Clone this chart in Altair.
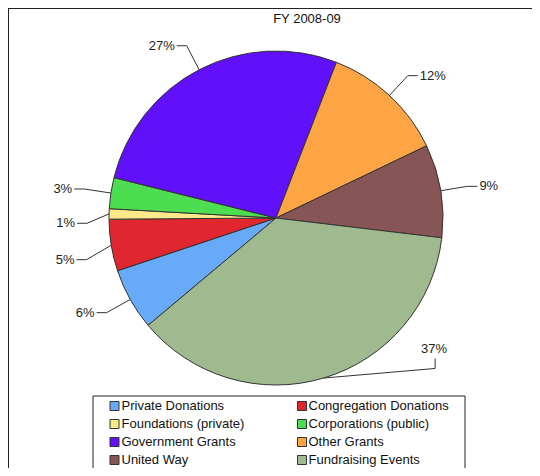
import math
import altair as alt
import pandas as pd

# ---- data ----
categories = ["Private Donations", "Congregation Donations", "Foundations (private)",
              "Corporations (public)", "Government Grants", "Other Grants",
              "United Way", "Fundraising Events"]
shares = [6, 5, 1, 3, 27, 12, 9, 37]
colors = ["#66aaf8", "#e0262e", "#fde98a", "#4ddd50", "#6010fa", "#fda544", "#875555", "#a0ba90"]
title_text = "FY 2008-09"

# ---- layout ----
W, H = 524, 460
CX, CY, R = 268, 210, 167
START_DEG = 230.0
FONT = "Liberation Sans"
LEADER_OUT = 27
# (angle shift deg, radial extra) for labels moved to avoid crowding
LABEL_NUDGE = {"Fundraising Events": (-30, 52),
               "Congregation Donations": (-3, 27),
               "Foundations (private)": (-3, 22)}
VERTICAL_LEADER = {"Fundraising Events"}

total = float(sum(shares))
pie_df = pd.DataFrame({"category": categories, "share": shares, "idx": list(range(len(categories)))})


def polar(deg, r):
    a = math.radians(deg)
    return CX + r * math.sin(a), CY - r * math.cos(a)


line_rows, text_rows = [], []
cum = 0.0
for i, (c, s) in enumerate(zip(categories, shares)):
    mid = START_DEG + (cum + s / 2.0) / total * 360.0
    cum += s
    dang, dr = LABEL_NUDGE.get(c, (0, LEADER_OUT))
    ax, ay = polar(mid, R)
    ex, ey = polar(mid + dang, R + dr)
    lab = f"{s}%"
    if c in VERTICAL_LEADER:
        pts = [(ax, ay), (ex, ey), (ex, ey - 10)]
        text_rows.append({"x": ex - 1, "y": ey - 19, "label": lab, "side": "center"})
    else:
        side = 1 if math.sin(math.radians(mid)) > 0 else -1
        pts = [(ax, ay), (ex, ey), (ex + 10 * side, ey)]
        text_rows.append({"x": ex + 12 * side, "y": ey, "label": lab,
                          "side": "left" if side > 0 else "right"})
    for k, (px, py) in enumerate(pts):
        line_rows.append({"cat": c, "k": k, "x": px, "y": py})

line_df = pd.DataFrame(line_rows)
text_df = pd.DataFrame(text_rows)

# legend rows
LEG_TOP, LEG_STEP = 398, 18
leg_rows = []
for i, c in enumerate(categories):
    col, row = i % 2, i // 2
    leg_rows.append({"category": c, "sx": [106.5, 294][col], "tx": [113.5, 300.5][col],
                     "y": LEG_TOP + LEG_STEP * row})
leg_df = pd.DataFrame(leg_rows)

xs = alt.Scale(domain=[0, W], range=[0, W])
ys = alt.Scale(domain=[0, H], range=[0, H])
cscale = alt.Scale(domain=categories, range=colors)

start_rad = math.radians(START_DEG)
pie = alt.Chart(pie_df).mark_arc(outerRadius=R, stroke="#333333", strokeWidth=1).encode(
    theta=alt.Theta("share:Q", stack=True,
                    scale=alt.Scale(domain=[0, total], range=[start_rad, start_rad + 2 * math.pi])),
    order=alt.Order("idx:Q"),
    color=alt.Color("category:N", scale=cscale, legend=None),
    x=alt.value(CX), y=alt.value(CY),
)

leaders = alt.Chart(line_df).mark_line(color="#333333", strokeWidth=1).encode(
    x=alt.X("x:Q", scale=xs, axis=None),
    y=alt.Y("y:Q", scale=ys, axis=None),
    detail="cat:N",
    order="k:Q",
)

def text_layer(side):
    return alt.Chart(text_df[text_df["side"] == side]).mark_text(
        align=side, baseline="middle", font=FONT, fontSize=13, color="#222222"
    ).encode(
        x=alt.X("x:Q", scale=xs, axis=None),
        y=alt.Y("y:Q", scale=ys, axis=None),
        text="label:N",
    )

title = alt.Chart(pd.DataFrame({"t": [title_text]})).mark_text(
    font=FONT, fontSize=13, color="#111111", align="center", baseline="middle"
).encode(x=alt.value(299), y=alt.value(11), text="t:N")

border = alt.Chart(pd.DataFrame({"a": [0]})).mark_rule(color="#222222", strokeWidth=2)
border_top = border.encode(x=alt.value(0), x2=alt.value(W), y=alt.value(0))
border_left = border.encode(x=alt.value(0), y=alt.value(0), y2=alt.value(H))

legend_box = alt.Chart(pd.DataFrame({"a": [0]})).mark_rect(
    fill="white", stroke="#222222", strokeWidth=1
).encode(x=alt.value(85), x2=alt.value(457), y=alt.value(388), y2=alt.value(H + 2))

leg_sw = alt.Chart(leg_df).mark_square(size=81, opacity=1, stroke="#333333", strokeWidth=1).encode(
    x=alt.X("sx:Q", scale=xs, axis=None),
    y=alt.Y("y:Q", scale=ys, axis=None),
    color=alt.Color("category:N", scale=cscale, legend=None),
)
leg_tx = alt.Chart(leg_df).mark_text(
    align="left", baseline="middle", font=FONT, fontSize=13, color="#111111"
).encode(
    x=alt.X("tx:Q", scale=xs, axis=None),
    y=alt.Y("y:Q", scale=ys, axis=None),
    text="category:N",
)

chart = alt.layer(
    pie, leaders, text_layer("left"), text_layer("right"), text_layer("center"),
    title, legend_box, leg_sw, leg_tx, border_top, border_left
).resolve_scale(color="shared").properties(
    width=W, height=H, autosize=alt.AutoSizeParams(type="none"), padding=0, background="white"
).configure_view(stroke=None)

chart.save("out.html", embed_options={"renderer": "svg", "actions": False})
